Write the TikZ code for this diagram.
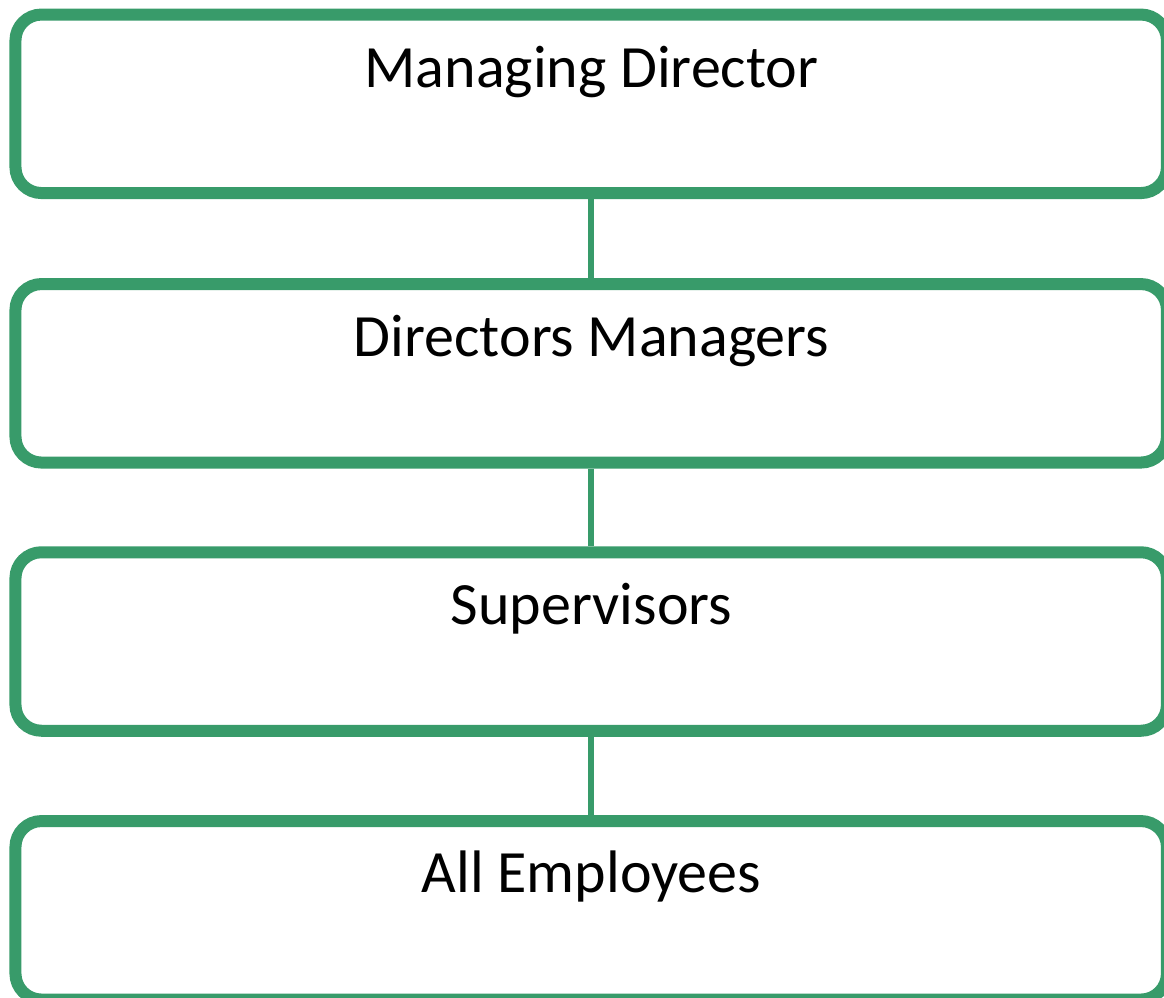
\documentclass[tikz,border=0pt]{standalone}
\usepackage{fontspec}
\setmainfont{Carlito}
\definecolor{boxgreen}{RGB}{56,155,106}
\begin{document}
\begin{tikzpicture}[x=1pt,y=-1pt,
  levelbox/.style={draw=boxgreen, line width=12pt, rounded corners=26pt, rectangle,
    minimum width=1151.5pt, minimum height=178.5pt, inner sep=0pt, fill=white},
  leveltext/.style={anchor=base, inner sep=0pt, font=\fontsize{60}{72}\selectfont},
  link/.style={draw=boxgreen, line width=5.5pt}]
\useasboundingbox (0,0) rectangle (1164,998);
\node[levelbox] (b1) at (591.2,103.8) {};
\node[levelbox] (b2) at (591.2,373.3) {};
\node[levelbox] (b3) at (591.2,641.5) {};
\node[levelbox] (b4) at (591.2,910.3) {};
\draw[link] (b1.south) -- (b2.north);
\draw[link] (b2.south) -- (b3.north);
\draw[link] (b3.south) -- (b4.north);
\node[leveltext] (t1) at (591.5,87) {Managing Director};
\node[leveltext] (t2) at (591.5,356) {Directors Managers};
\node[leveltext] (t3) at (591.5,624) {Supervisors};
\node[leveltext] (t4) at (591.5,892) {All Employees};
\end{tikzpicture}
\end{document}
